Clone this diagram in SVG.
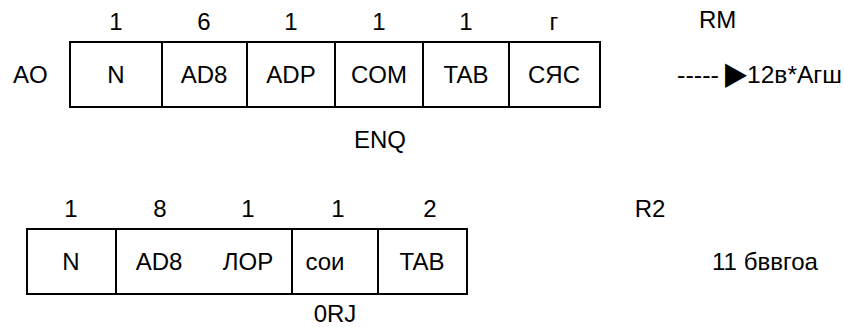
<svg xmlns="http://www.w3.org/2000/svg" width="844" height="327" viewBox="0 0 844 327">
<style>
text{font-family:"Liberation Sans",Arial,sans-serif;font-size:24px;fill:#000}
.m{text-anchor:middle}
.b{fill:#fff;stroke:#000;stroke-width:2}
.d{stroke:#000;stroke-width:2}
</style>
<rect width="844" height="327" fill="#fff"/>
<g id="frame1">
<rect class="b" x="70" y="42" width="530" height="65"/>
<line class="d" x1="162" y1="42" x2="162" y2="107"/>
<line class="d" x1="247" y1="42" x2="247" y2="107"/>
<line class="d" x1="335" y1="42" x2="335" y2="107"/>
<line class="d" x1="423" y1="42" x2="423" y2="107"/>
<line class="d" x1="509" y1="42" x2="509" y2="107"/>
<text x="13" y="83">AO</text>
<text class="m" x="116" y="30">1</text>
<text class="m" x="204" y="30">6</text>
<text class="m" x="291" y="30">1</text>
<text class="m" x="379" y="30">1</text>
<text class="m" x="466" y="30">1</text>
<text class="m" x="554" y="30">г</text>
<text class="m" x="116" y="83">N</text>
<text class="m" x="204" y="83">AD8</text>
<text class="m" x="291" y="83">ADP</text>
<text class="m" x="379" y="83">COM</text>
<text class="m" x="466" y="83">TAB</text>
<text class="m" x="554" y="83">СЯС</text>
<text class="m" x="380" y="148">ENQ</text>
<text x="699" y="28">RM</text>
<text y="83"><tspan x="677" textLength="42" lengthAdjust="spacingAndGlyphs">-----</tspan><tspan x="725" y="84" font-family="DejaVu Sans,sans-serif" font-size="32" textLength="22" lengthAdjust="spacingAndGlyphs">▶</tspan><tspan x="747" y="83" textLength="95" lengthAdjust="spacingAndGlyphs">12в*Агш</tspan></text>
</g>
<g id="frame2">
<rect class="b" x="27" y="229" width="440" height="65"/>
<line class="d" x1="116" y1="229" x2="116" y2="294"/>
<line class="d" x1="292" y1="229" x2="292" y2="294"/>
<line class="d" x1="378" y1="229" x2="378" y2="294"/>
<text class="m" x="71" y="217">1</text>
<text class="m" x="160" y="217">8</text>
<text class="m" x="248" y="217">1</text>
<text class="m" x="338" y="217">1</text>
<text class="m" x="430" y="217">2</text>
<text class="m" x="71" y="270">N</text>
<text class="m" x="159" y="270">AD8</text>
<text class="m" x="248" y="270">ЛОР</text>
<text class="m" x="325" y="270">сои</text>
<text class="m" x="422" y="270">TAB</text>
<text class="m" x="335" y="322">0RJ</text>
<text class="m" x="650" y="217">R2</text>
<text x="712" y="270" textLength="106" lengthAdjust="spacingAndGlyphs">11 бввгоа</text>
</g>
</svg>
